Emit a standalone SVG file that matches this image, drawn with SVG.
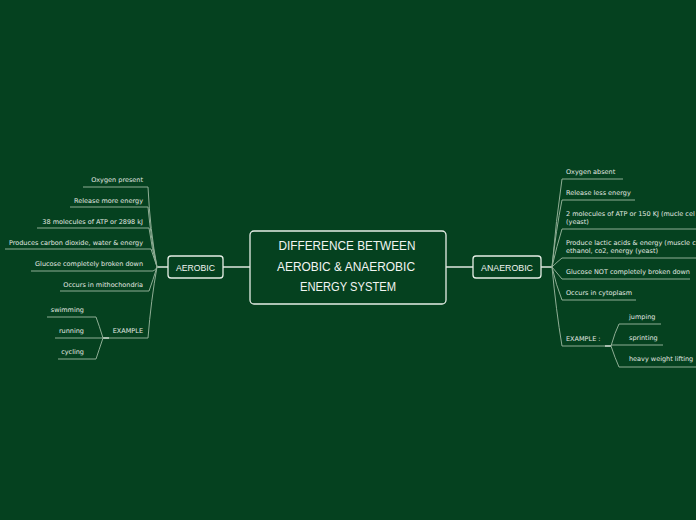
<svg xmlns="http://www.w3.org/2000/svg" width="696" height="520" viewBox="0 0 696 520">
<style>
.bg{fill:#05411f}
.node{fill:#05411f;stroke:#e6eee6;stroke-width:1.3}
.title{font-family:"Liberation Sans","DejaVu Sans",sans-serif;fill:#f2f5f2;font-size:12px;text-anchor:middle}
.sub{font-family:"Liberation Sans","DejaVu Sans",sans-serif;fill:#f2f5f2;font-size:9.5px;text-anchor:middle}
.t{font-family:"DejaVu Sans","Liberation Sans",sans-serif;fill:#e2e9e2;font-size:6.5px}
.r{text-anchor:end}
.ln{fill:none;stroke:#8fae95;stroke-width:1}
.hl{fill:none;stroke:#dfe8df;stroke-width:1.6}
</style>
<rect class="bg" x="0" y="0" width="696" height="520"/>
<g id="connectors">
<path class="hl" d="M223 267H250M446 267H473M168 267H157M541 267H552M103 338H109M605 346H611"/>
<path class="ln" d="M157 267Q150 230 148 187H83"/>
<path class="ln" d="M157 267Q151 240 148 207H70"/>
<path class="ln" d="M157 267Q152 250 149 228H37"/>
<path class="ln" d="M157 267Q154 258 151 249H5"/>
<path class="ln" d="M157 267Q156 270 153 271H31"/>
<path class="ln" d="M157 267Q153 280 149 291H60"/>
<path class="ln" d="M157 267Q151 300 148 338H109"/>
<path class="ln" d="M103 338Q99 325 96 317H47"/>
<path class="ln" d="M103 338H55"/>
<path class="ln" d="M103 338Q99 350 96 359H58"/>
<path class="ln" d="M552 267Q556 220 562 179H623"/>
<path class="ln" d="M552 267Q556 230 562 200H635"/>
<path class="ln" d="M552 267Q557 245 562 229H696"/>
<path class="ln" d="M552 267Q557 262 562 258H696"/>
<path class="ln" d="M552 267Q557 273 562 279H690"/>
<path class="ln" d="M552 267Q556 285 562 300H636"/>
<path class="ln" d="M552 267Q556 310 562 346H605"/>
<path class="ln" d="M611 346Q615 332 619 324H661"/>
<path class="ln" d="M611 345H663"/>
<path class="ln" d="M611 346Q615 358 619 367H696"/>
</g>
<g id="central">
<rect class="node" x="250" y="231" width="196" height="73" rx="4"/>
<text class="title" x="347" y="250" textLength="137" lengthAdjust="spacingAndGlyphs">DIFFERENCE BETWEEN</text>
<text class="title" x="346" y="271" textLength="138" lengthAdjust="spacingAndGlyphs">AEROBIC &amp; ANAEROBIC</text>
<text class="title" x="348" y="291" textLength="96" lengthAdjust="spacingAndGlyphs">ENERGY SYSTEM</text>
</g>
<g id="aerobic">
<rect class="node" x="168" y="256" width="55" height="22" rx="3"/>
<text class="sub" x="195.5" y="270.5" textLength="39" lengthAdjust="spacingAndGlyphs">AEROBIC</text>
</g>
<g id="anaerobic">
<rect class="node" x="473" y="256" width="68" height="22" rx="3"/>
<text class="sub" x="507" y="270.5" textLength="52" lengthAdjust="spacingAndGlyphs">ANAEROBIC</text>
</g>
<g id="aerobic-items">
<text class="t r" x="143" y="182">Oxygen present</text>
<text class="t r" x="143" y="203">Release more energy</text>
<text class="t r" x="143" y="224">38 molecules of ATP or 2898 kJ</text>
<text class="t r" x="143" y="245">Produces carbon dioxide, water &amp; energy</text>
<text class="t r" x="143" y="266">Glucose completely broken down</text>
<text class="t r" x="143" y="287">Occurs in mithochondria</text>
<text class="t r" x="143" y="333">EXAMPLE</text>
<text class="t r" x="84" y="312">swimming</text>
<text class="t r" x="84" y="333">running</text>
<text class="t r" x="84" y="354">cycling</text>
</g>
<g id="anaerobic-items">
<text class="t" x="566" y="174">Oxygen absent</text>
<text class="t" x="566" y="195">Release less energy</text>
<text class="t" x="566" y="216">2 molecules of ATP or 150 KJ (mucle cel</text>
<text class="t" x="566" y="224">(yeast)</text>
<text class="t" x="566" y="245">Produce lactic acids &amp; energy (muscle c</text>
<text class="t" x="566" y="253">ethanol, co2, energy (yeast)</text>
<text class="t" x="566" y="274">Glucose NOT completely broken down</text>
<text class="t" x="566" y="295">Occurs in cytoplasm</text>
<text class="t" x="566" y="341">EXAMPLE :</text>
<text class="t" x="629" y="319">jumping</text>
<text class="t" x="629" y="340">sprinting</text>
<text class="t" x="629" y="361">heavy weight lifting</text>
</g>
</svg>
